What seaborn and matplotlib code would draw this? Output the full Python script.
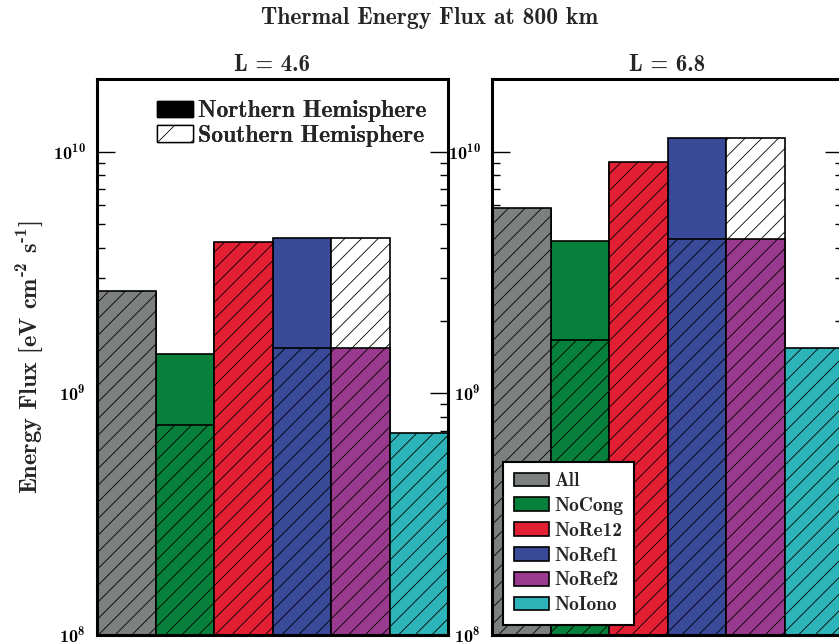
import warnings
warnings.filterwarnings("ignore")
import numpy as np
import pandas as pd
import matplotlib
matplotlib.use("Agg")
import matplotlib.pyplot as plt
import seaborn as sns
from matplotlib.patches import Patch
from matplotlib.ticker import LogLocator, NullFormatter

# ---------------- data ----------------
categories = ["All", "NoCong", "NoRe12", "NoRef1", "NoRef2", "NoIono"]
panel_titles = ["L = 4.6", "L = 6.8"]
suptitle = "Thermal Energy Flux at 800 km"
ylabel = r"Energy Flux [eV cm$^{\text{-2}}$ s$^{\text{-1}}$]"
hemi_labels = ["Northern Hemisphere", "Southern Hemisphere"]

# Northern hemisphere (solid) values
north_46 = [2.60e9, 1.46e9, 4.20e9, 4.40e9, 4.40e9, 6.80e8]
north_68 = [5.80e9, 4.28e9, 9.00e9, 1.14e10, 1.14e10, 1.50e9]
# Southern hemisphere (hatched) values
south_46 = [2.66e9, 7.40e8, 4.24e9, 1.54e9, 1.54e9, 6.86e8]
south_68 = [5.87e9, 1.67e9, 9.09e9, 4.36e9, 4.36e9, 1.54e9]

colors = ["#7c807f", "#06803a", "#e31f33", "#394a99", "#9a3a8e", "#2db4b9"]
north_colors = ["#7c807f", "#06803a", "#e31f33", "#394a99", "#ffffff", "#2db4b9"]

# ---------------- style ----------------
sns.set_style("white")
plt.rcParams["font.family"] = ["cmb10", "DejaVu Serif"]
plt.rcParams["mathtext.fontset"] = "custom"
plt.rcParams["mathtext.rm"] = "cmb10"
plt.rcParams["mathtext.bf"] = "cmb10"
plt.rcParams["mathtext.it"] = "cmb10"
plt.rcParams["mathtext.fallback"] = "cm"
plt.rcParams["axes.unicode_minus"] = False
plt.rcParams["hatch.linewidth"] = 0.6
plt.rcParams["axes.linewidth"] = 2.2

fig = plt.figure(figsize=(8.39, 6.42), dpi=100)
W = 351 / 839
H = 556 / 642
B = 7 / 642
ax1 = fig.add_axes([97 / 839, B, W, H])
ax2 = fig.add_axes([492 / 839, B, W, H])
axes = [ax1, ax2]

for ax, title, north, south in zip(axes, panel_titles, [north_46, north_68], [south_46, south_68]):
    dn = pd.DataFrame({"cat": categories, "flux": north})
    ds = pd.DataFrame({"cat": categories, "flux": south})
    n0 = len(ax.patches)
    sns.barplot(data=dn, x="cat", y="flux", hue="cat", palette=north_colors,
                saturation=1, width=1.0, edgecolor="black", linewidth=1.2,
                legend=False, ax=ax, log_scale=True, errorbar=None)
    north_patches = ax.patches[n0:]
    # NoRef2 northern bar is drawn white with hatch
    north_patches[4].set_hatch("//")
    sns.barplot(data=ds, x="cat", y="flux", hue="cat", palette=colors,
                saturation=1, width=1.0, edgecolor="black", linewidth=1.2,
                hatch="//", legend=False, ax=ax, log_scale=True, errorbar=None)
    ax.set_yscale("log")
    ax.set_ylim(1e8, 2e10)
    ax.set_xlim(-0.5, 5.5)
    ax.set_xlabel("")
    ax.set_ylabel("")
    ax.set_xticks([])
    ax.yaxis.set_major_locator(LogLocator(base=10, numticks=10))
    ax.yaxis.set_minor_locator(LogLocator(base=10, subs=np.arange(2, 10), numticks=20))
    ax.yaxis.set_minor_formatter(NullFormatter())
    ax.tick_params(axis="y", which="both", direction="in", left=True, right=True,
                   labelleft=True, labelright=False, colors="black", labelsize=13, pad=8)
    ax.tick_params(axis="y", which="major", length=13, width=1.0)
    ax.tick_params(axis="y", which="minor", length=5.5, width=1.0)
    for s in ax.spines.values():
        s.set_visible(True)
        s.set_color("black")
        s.set_linewidth(2.2)
    ax.set_title(title, fontsize=16.5, pad=6)
    ax.set_facecolor("white")

ax1.set_ylabel(ylabel, fontsize=17.5, labelpad=5)

fig.text(430 / 839, 1 - 18 / 642, suptitle, ha="center", va="center", fontsize=17)

hemi_handles = [Patch(facecolor="black", edgecolor="black", label=hemi_labels[0]),
                Patch(facecolor="white", edgecolor="black", hatch="/", label=hemi_labels[1])]
leg1 = ax1.legend(handles=hemi_handles, loc="upper left", bbox_to_anchor=(0.172, 0.962),
                  frameon=False, fontsize=17, handlelength=1.5, handletextpad=0.2,
                  labelspacing=0.12, borderpad=0, borderaxespad=0)
ax1.add_artist(leg1)

cat_handles = [Patch(facecolor=c, edgecolor="black", linewidth=1.2, label=l)
               for c, l in zip(colors, categories)]
leg2 = ax2.legend(handles=cat_handles, loc="lower left", bbox_to_anchor=(0.031, 0.018),
                  frameon=True, fancybox=False, fontsize=14, handlelength=1.8,
                  handleheight=0.72, handletextpad=0.3, labelspacing=0.35,
                  borderpad=0.55, borderaxespad=0, framealpha=1)
leg2.get_frame().set_edgecolor("black")
leg2.get_frame().set_linewidth(1.5)

fig.savefig("out.png", dpi=100)
